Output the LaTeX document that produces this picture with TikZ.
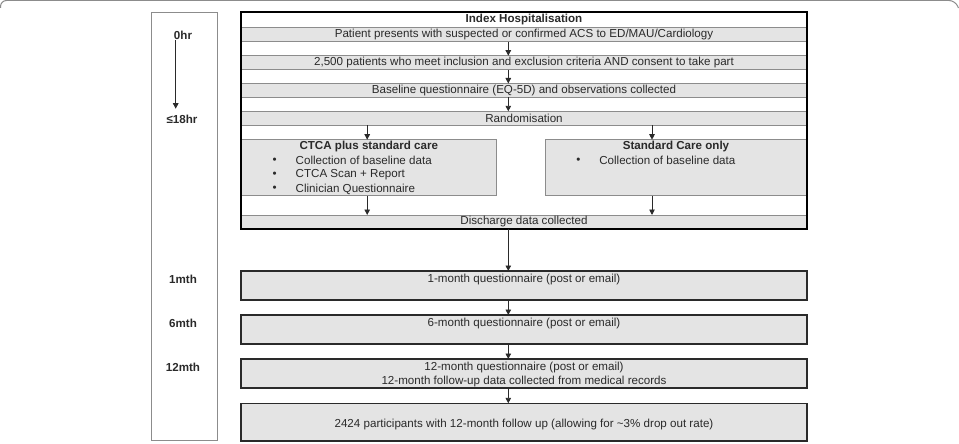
\documentclass[tikz,border=0pt]{standalone}
\usepackage{fontspec}
\setmainfont{Liberation Sans}
\usetikzlibrary{arrows.meta}
\definecolor{boxgray}{HTML}{E4E4E4}
\definecolor{linegray}{HTML}{8C8C8C}
\definecolor{ink}{HTML}{2A2A2A}
\begin{document}
\begin{tikzpicture}[x=1pt,y=-1pt,
  every node/.style={font=\fontsize{11.6}{13}\selectfont, text=ink, inner sep=0pt, outer sep=0pt},
  row/.style={draw=linegray, line width=0.8pt, fill=boxgray, minimum width=566pt, minimum height=#1},
  row/.default=14pt,
  later/.style={draw=ink, line width=1.6pt, fill=boxgray, minimum width=566pt, minimum height=#1},
  arr/.style={draw=ink, line width=0.9pt, -{Triangle[length=5.5pt,width=5.5pt]}},
  btxt/.style={font=\fontsize{11.6}{13}\selectfont\bfseries},
  bul/.style={anchor=west},
]
\useasboundingbox (0,0) rectangle (959,444);
% top frame edge
\draw[linegray, line width=1pt, rounded corners=6pt] (0.5,8) -- (0.5,0.5) -- (955,0.5) -- (958.5,8);

% timeline box
\node[draw=linegray, line width=0.9pt, minimum width=66pt, minimum height=428pt, anchor=north west] (tl) at (151,12) {};
\node[btxt] (t0) at (183,35) {0hr};
\node[btxt] (t18) at (182,119) {≤18hr};
\node[btxt] (t1m) at (183,279) {1mth};
\node[btxt] (t6m) at (183,323) {6mth};
\node[btxt] (t12m) at (183,367) {12mth};
\coordinate (tx) at (175.7,0);
\draw[arr] (t0.south -| tx) ++(0,1) -- ([yshift=6pt]t18.north -| tx);

% index hospitalisation block
\node[draw=linegray, line width=0.8pt, fill=white, minimum width=566pt, minimum height=16pt] (title) at (524,20) {\bfseries Index Hospitalisation};
\node[row] (r1) at (524,34.85) {Patient presents with suspected or confirmed ACS to ED/MAU/Cardiology};
\node[row] (r2) at (524,62.7) {2,500 patients who meet inclusion and exclusion criteria AND consent to take part};
\node[row] (r3) at (524,90.5) {Baseline questionnaire (EQ-5D) and observations collected};
\node[row] (r4) at (524,118.3) {Randomisation};
\node[draw=linegray, line width=0.8pt, fill=boxgray, minimum width=255pt, minimum height=56pt] (ctca) at (368.5,167.7) {};
\node[draw=linegray, line width=0.8pt, fill=boxgray, minimum width=261.3pt, minimum height=56pt] (std) at (676.35,167.7) {};
\node[row] (dis) at (524,222) {Discharge data collected};
\node[draw=black, line width=1.6pt, minimum width=566pt, minimum height=217pt, anchor=north west] (idx) at (241,12) {};

% arm contents
\node[btxt] (ctcah) at (368.8,146.7) {CTCA plus standard care};
\node[bul] (cb1) at (272.5,160.7) {•};
\node[bul] (cb2) at (272.5,175) {•};
\node[bul] (cb3) at (272.5,189) {•};
\node[bul] (ct1) at (295.7,160.7) {Collection of baseline data};
\node[bul] (ct2) at (295.7,175) {CTCA Scan + Report};
\node[bul] (ct3) at (295.7,189) {Clinician Questionnaire};
\node[btxt] (stdh) at (676,146.7) {Standard Care only};
\node[bul] (sb1) at (576.3,160.7) {•};
\node[bul] (st1) at (599.3,160.7) {Collection of baseline data};

% follow-up boxes
\node[later=29pt] (m1) at (524,285.5) {};
\node (m1t) at (524,279) {1-month questionnaire (post or email)};
\node[later=29pt] (m6) at (524,329.5) {};
\node (m6t) at (524,323) {6-month questionnaire (post or email)};
\node[later=28.7pt] (m12) at (524,373.35) {};
\node (m12t) at (524,367.5) {12-month questionnaire (post or email)};
\node (m12u) at (524,381) {12-month follow-up data collected from medical records};
\node[later=37.4pt] (fin) at (524,422) {};
\node (fint) at (524,424) {2424 participants with 12-month follow up (allowing for \textasciitilde3\% drop out rate)};

% connectors
\coordinate (xa) at (508.3,0);
\coordinate (xl) at (367.2,0);
\coordinate (xr) at (652,0);
\draw[arr] (r1.south -| xa) -- (r2.north -| xa);
\draw[arr] (r2.south -| xa) -- (r3.north -| xa);
\draw[arr] (r3.south -| xa) -- (r4.north -| xa);
\draw[arr] (r4.south -| xl) -- (ctca.north -| xl);
\draw[arr] (r4.south -| xr) -- (std.north -| xr);
\draw[arr] (ctca.south -| xl) -- (dis.north -| xl);
\draw[arr] (std.south -| xr) -- (dis.north -| xr);
\draw[arr] (idx.south -| xa) -- (m1.north -| xa);
\draw[arr] (m1.south -| xa) -- (m6.north -| xa);
\draw[arr] (m6.south -| xa) -- (m12.north -| xa);
\draw[arr] (m12.south -| xa) -- (fin.north -| xa);
\end{tikzpicture}
\end{document}
